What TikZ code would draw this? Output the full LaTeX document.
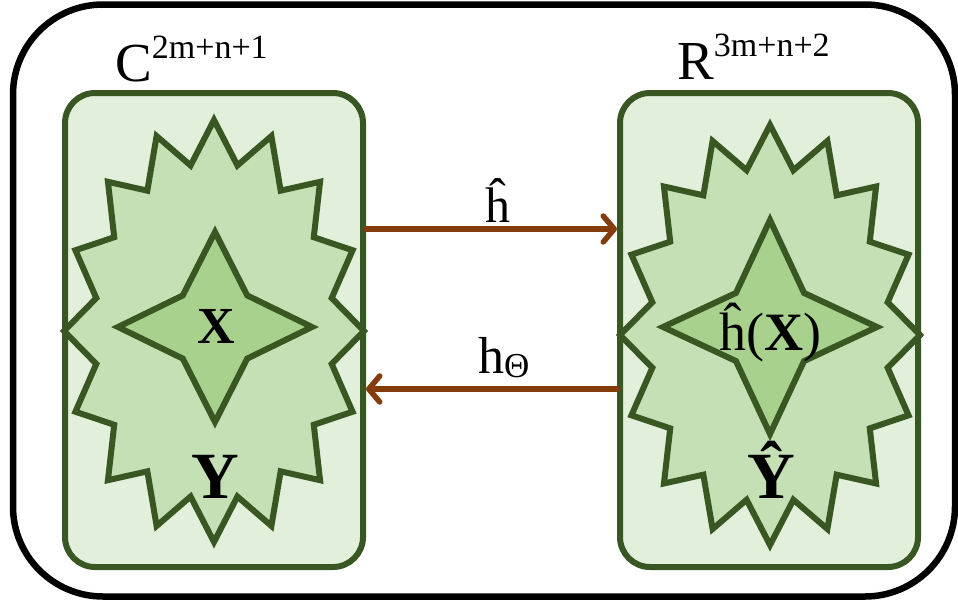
\documentclass[tikz,border=0pt]{standalone}
\usepackage{fontspec}
\setmainfont{Liberation Serif}
\usetikzlibrary{arrows.meta}
\definecolor{boxfill}{HTML}{E2EFDA}
\definecolor{starfill}{HTML}{C5E0B4}
\definecolor{innerfill}{HTML}{A9D18E}
\definecolor{dgreen}{HTML}{385723}
\definecolor{arrowc}{HTML}{843C0C}
\newcommand{\myfs}[1]{\fontsize{#1}{#1}\selectfont}
\begin{document}
\begin{tikzpicture}[x=1pt,y=-1pt,
  frame/.style={draw=black, line width=6.5pt, rounded corners=90pt, minimum width=942pt, minimum height=592pt, inner sep=0pt},
  spacebox/.style={draw=dgreen, fill=boxfill, line width=6pt, rounded corners=30pt, minimum width=298pt, minimum height=474pt, inner sep=0pt},
  bigstar/.style={draw=dgreen, fill=starfill, line width=6pt, line join=miter},
  smallstar/.style={draw=dgreen, fill=innerfill, line width=6pt, line join=miter},
  conn/.style={draw=arrowc, line width=5.5pt, line cap=round, -{Straight Barb[length=11pt,width=26pt,line cap=round,line join=round]}},
  lab/.style={inner sep=0pt, text=black}
]
\useasboundingbox (0,0) rectangle (958,603);
\node[frame] (frame) at (484,300.5) {};
\node[spacebox] (lbox) at (214,330) {};
\node[spacebox] (rbox) at (769,330) {};
% big stars
\draw[bigstar] plot[samples at={0,...,31}, variable=\t]
  ({214+150*(1-0.2*mod(\t,2))*sin(\t*11.25)},{331-211*(1-0.2*mod(\t,2))*cos(\t*11.25)}) -- cycle;
\draw[bigstar] plot[samples at={0,...,31}, variable=\t]
  ({770+150*(1-0.2*mod(\t,2))*sin(\t*11.25)},{335-210*(1-0.2*mod(\t,2))*cos(\t*11.25)}) -- cycle;
% small stars
\draw[smallstar] plot[samples at={0,...,7}, variable=\t]
  ({215+97*(1-0.53*mod(\t,2))*sin(\t*45)},{327-95*(1-0.53*mod(\t,2))*cos(\t*45)}) -- cycle;
\draw[smallstar] plot[samples at={0,...,7}, variable=\t]
  ({770+107*(1-0.55*mod(\t,2))*sin(\t*45)},{327-107*(1-0.55*mod(\t,2))*cos(\t*45)}) -- cycle;
% texts
\node[lab, anchor=base west] (clab) at (115,81) {\myfs{55}C\raisebox{23pt}{\myfs{34}2m+n+1}};
\node[lab, anchor=base west] (rlab) at (677,79) {\myfs{55}R\raisebox{23pt}{\myfs{34}3m+n+2}};
\node[lab, anchor=base] (xin) at (216,343) {\myfs{52}\bfseries X};
\node[lab, anchor=base] (yin) at (215,498) {\myfs{66}\bfseries Y};
\node[lab, anchor=base] (hx) at (770,350) {\myfs{54}ĥ(\textbf{X})};
\node[lab, anchor=base] (yhat) at (771,498) {\myfs{66}\bfseries Ŷ};
% arrows
\draw[conn] ([yshift=101pt]lbox.east) -- ([yshift=101pt]rbox.west);
\draw[conn] ([yshift=-59pt]rbox.west) -- ([yshift=-59pt]lbox.east);
\node[lab, anchor=base] (hhat) at (498,222) {\myfs{50}ĥ};
\node[lab, anchor=base west] (htheta) at (478,373) {\myfs{52}h\raisebox{-4pt}{\myfs{35}Θ}};
\end{tikzpicture}
\end{document}
